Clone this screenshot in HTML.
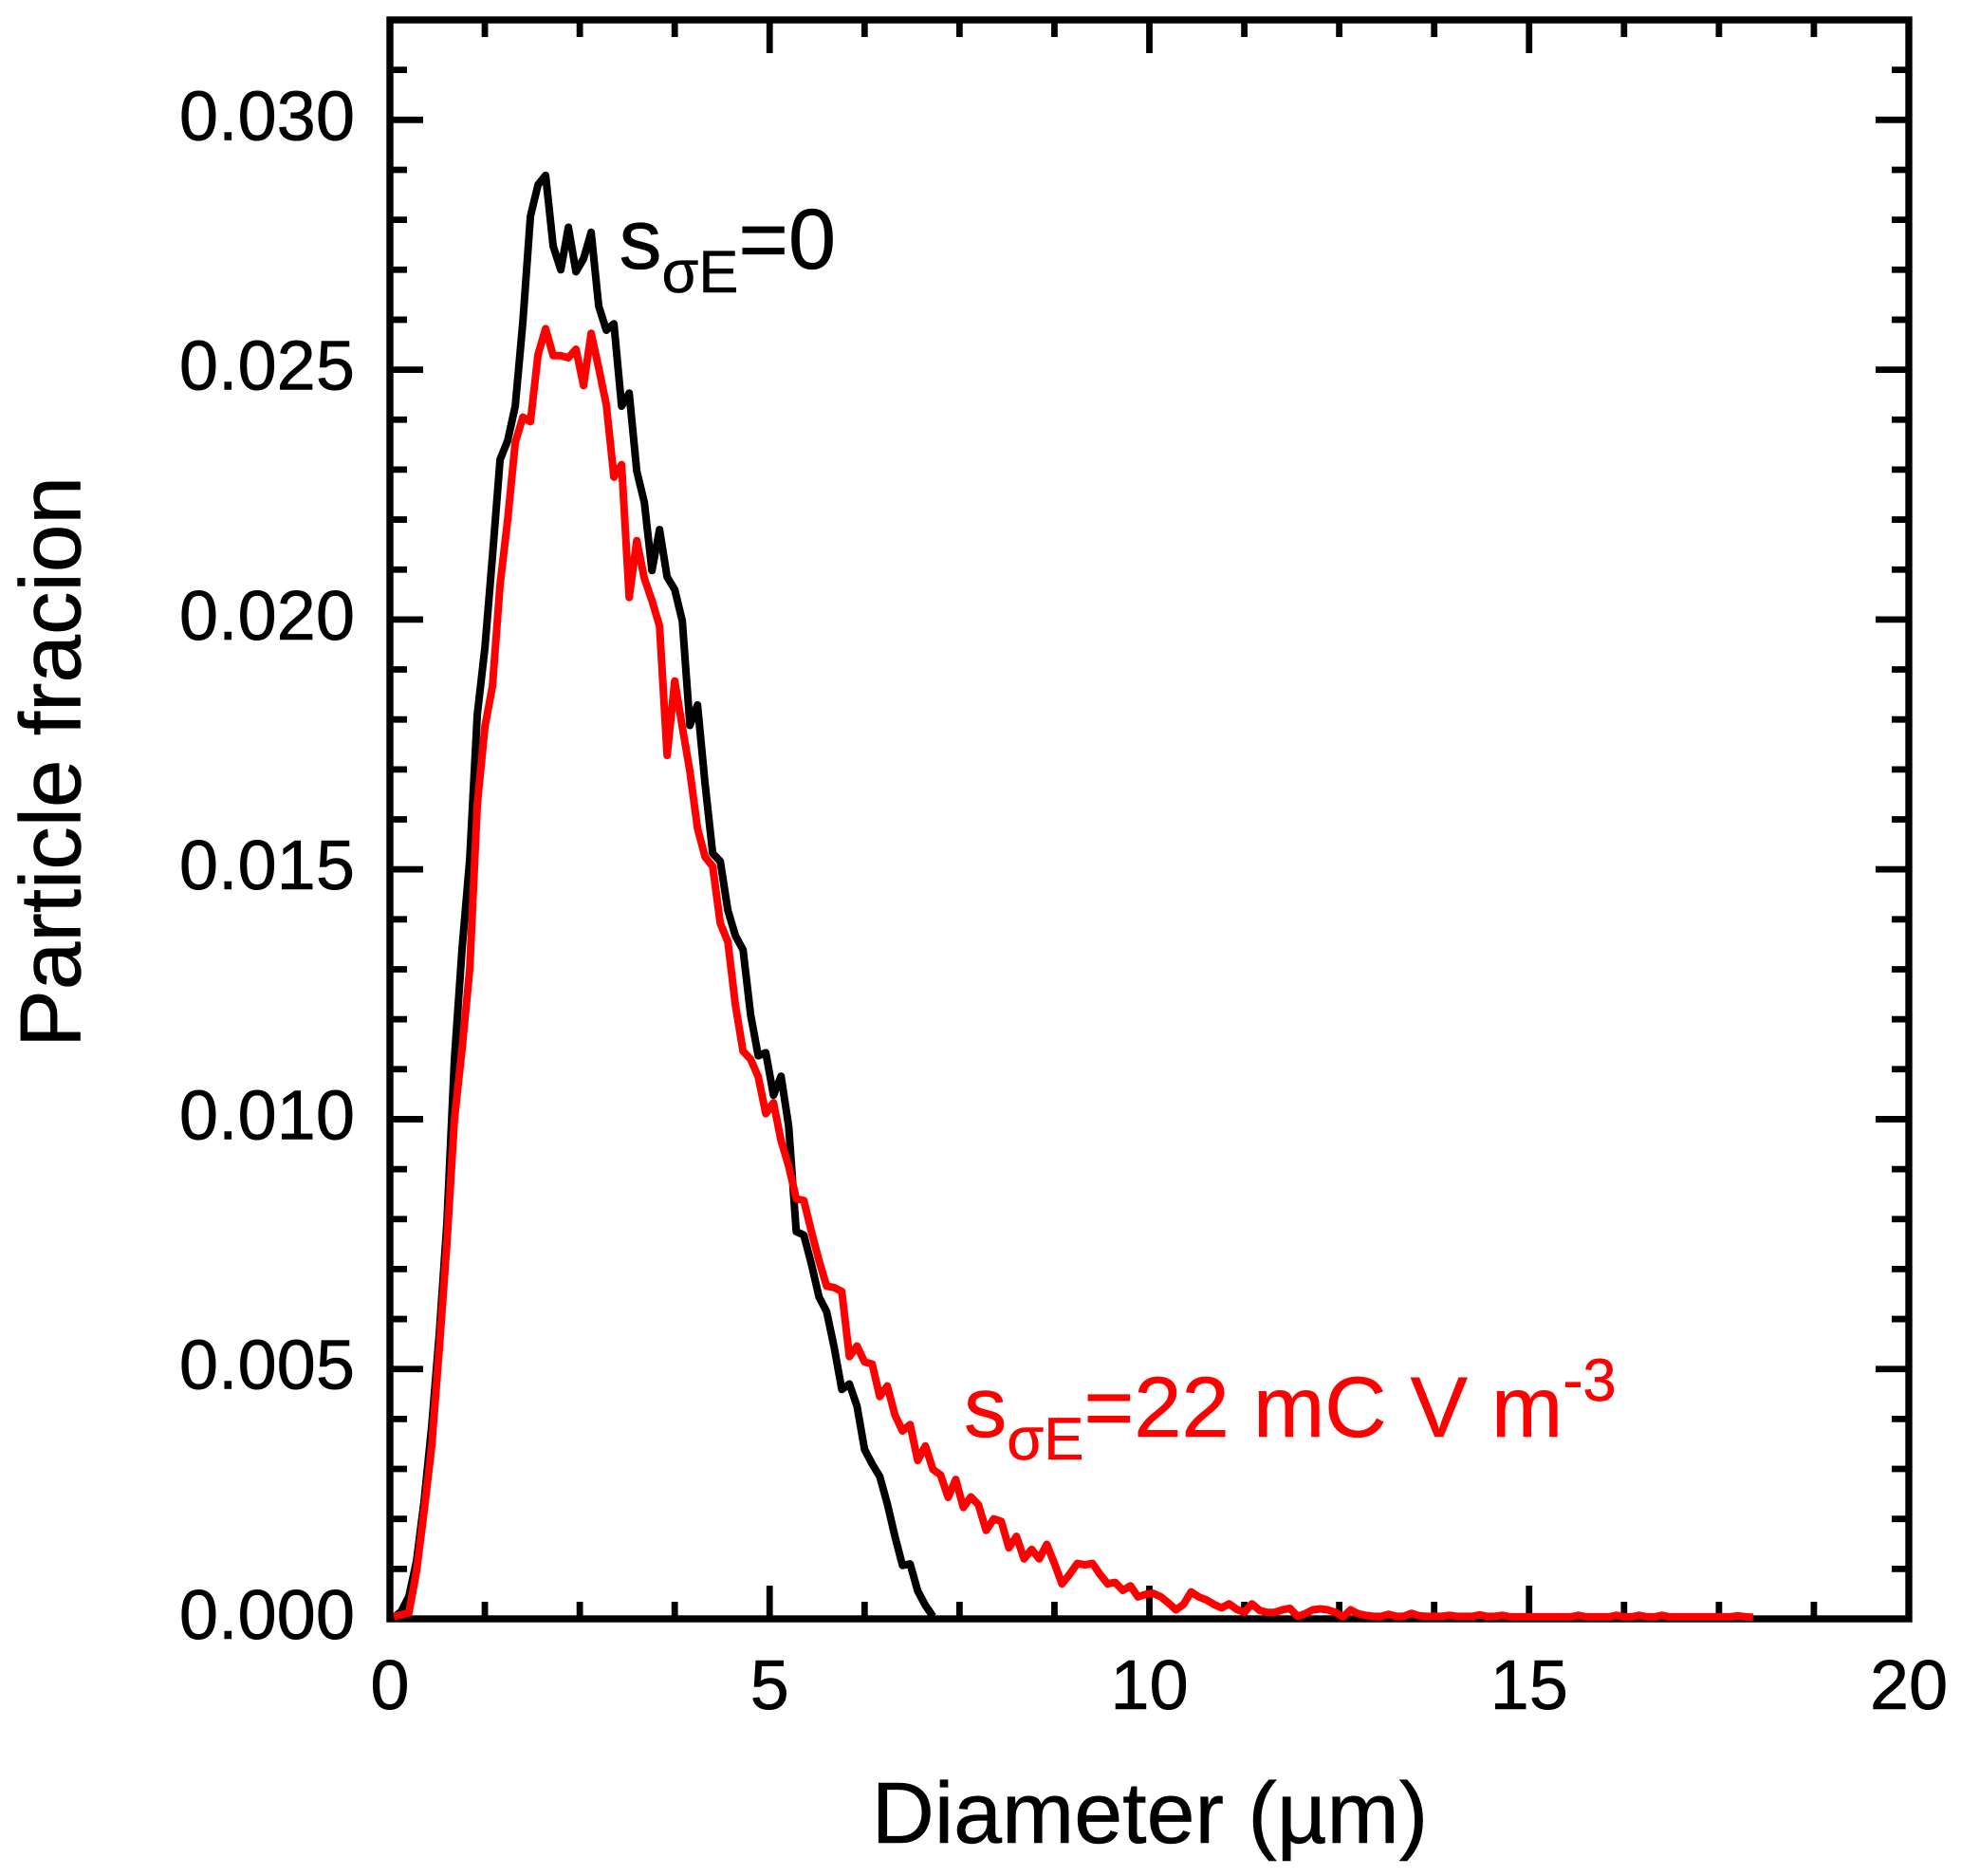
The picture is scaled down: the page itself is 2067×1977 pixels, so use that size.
<!DOCTYPE html>
<html lang="en">
<head>
<meta charset="utf-8">
<title>Particle fraction vs diameter</title>
<style>
  html, body { margin: 0; padding: 0; background: #fff; }
  svg { display: block; }
  text { font-family: "Liberation Sans", "DejaVu Sans", sans-serif; text-rendering: geometricPrecision; stroke-width: 0.6; paint-order: stroke; }
</style>
</head>
<body>
<svg id="chart" xmlns="http://www.w3.org/2000/svg" width="2067" height="1977" viewBox="0 0 2067 1977">
  <rect x="0" y="0" width="2067" height="1977" fill="#ffffff"/>
  <g id="ticks"></g>
  <g id="tick-labels"></g>
  <rect x="411" y="21" width="1601" height="1685" fill="none" stroke="#000" stroke-width="7.4"/>
  <g id="series"></g>
  <text x="1212" y="1942" font-size="91.5" text-anchor="middle" fill="#000" stroke="#000">Diameter (µm)</text>
  <text transform="translate(84.5 803) rotate(-90)" font-size="91" text-anchor="middle" fill="#000" stroke="#000">Particle fracion</text>
  <text x="652.5" y="283" font-size="90" fill="#000" stroke="#000">s<tspan font-size="63" dy="25">σE</tspan><tspan dy="-25">=0</tspan></text>
  <text x="1016" y="1514" font-size="90.4" fill="#ff0000" stroke="#ff0000">s<tspan font-size="63.3" dy="24">σE</tspan><tspan dy="-24">=22 mC V m</tspan><tspan font-size="63.3" dy="-38">-3</tspan></text>
</svg>
<script>
const diameters = [
  0.05,0.15,0.25,0.35,0.45,0.55,0.65,0.75,0.85,0.95,
  1.05,1.15,1.25,1.35,1.45,1.55,1.65,1.75,1.85,1.95,
  2.05,2.15,2.25,2.35,2.45,2.55,2.65,2.75,2.85,2.95,
  3.05,3.15,3.25,3.35,3.45,3.55,3.65,3.75,3.85,3.95,
  4.05,4.15,4.25,4.35,4.45,4.55,4.65,4.75,4.85,4.95,
  5.05,5.15,5.25,5.35,5.45,5.55,5.65,5.75,5.85,5.95,
  6.05,6.15,6.25,6.35,6.45,6.55,6.65,6.75,6.85,6.95,
  7.05,7.15,7.25,7.35,7.45,7.55,7.65,7.75,7.85,7.95,
  8.05,8.15,8.25,8.35,8.45,8.55,8.65,8.75,8.85,8.95,
  9.05,9.15,9.25,9.35,9.45,9.55,9.65,9.75,9.85,9.95,
  10.05,10.15,10.25,10.35,10.45,10.55,10.65,10.75,10.85,10.95,
  11.05,11.15,11.25,11.35,11.45,11.55,11.65,11.75,11.85,11.95,
  12.05,12.15,12.25,12.35,12.45,12.55,12.65,12.75,12.85,12.95,
  13.05,13.15,13.25,13.35,13.45,13.55,13.65,13.75,13.85,13.95,
  14.05,14.15,14.25,14.35,14.45,14.55,14.65,14.75,14.85,14.95,
  15.05,15.15,15.25,15.35,15.45,15.55,15.65,15.75,15.85,15.95,
  16.05,16.15,16.25,16.35,16.45,16.55,16.65,16.75,16.85,16.95,
  17.05,17.15,17.25,17.35,17.45,17.55,17.65,17.75,17.85,17.95
];
const fractionNoField = [
  0.00002,0.00015,0.00045,0.00115,0.00235,0.00385,0.00570,0.00790,0.0112,0.0134,
  0.0152,0.0181,0.01943,0.02127,0.0232,0.02358,0.02427,0.02595,0.02807,0.0287,
  0.02889,0.02747,0.027,0.02785,0.02696,0.02722,0.02775,0.02627,0.02579,0.02592,
  0.02427,0.02453,0.02297,0.02234,0.02098,0.0218,0.02085,0.0206,0.01997,0.01788,
  0.01829,0.01671,0.01532,0.01516,0.01418,0.01367,0.01339,0.01209,0.01127,0.01133,
  0.01048,0.01086,0.00986,0.00775,0.00768,0.0071,0.00644,0.00615,0.00543,0.00459,
  0.0047,0.00426,0.00339,0.0031,0.00285,0.0023,0.00165,0.00107,0.0011,0.00056,
  0.00027,0.00005
];
const fractionWithField = [
  0.00005,0.00008,0.00012,0.00095,0.00215,0.00345,0.0054,0.0075,0.0100,0.0114,
  0.0130,0.0163,0.01785,0.01867,0.0207,0.022,0.02354,0.02405,0.02396,0.0253,
  0.02582,0.02528,0.02528,0.02524,0.02541,0.02468,0.02573,0.02503,0.0243,0.02285,
  0.0231,0.02044,0.02158,0.02082,0.02038,0.01987,0.01728,0.01877,0.01785,0.01696,
  0.01582,0.01525,0.01506,0.01392,0.01355,0.01228,0.01136,0.0112,0.01085,0.01011,
  0.01033,0.00957,0.00906,0.00841,0.00837,0.00775,0.00717,0.00666,0.00663,0.00655,
  0.00525,0.00546,0.00514,0.0051,0.00445,0.00466,0.00408,0.00376,0.00389,0.00317,
  0.00346,0.00299,0.00288,0.00243,0.00279,0.00223,0.00244,0.00228,0.00177,0.002,
  0.00195,0.00142,0.00165,0.0012,0.00139,0.0012,0.00149,0.00111,0.0007,0.00089,
  0.00111,0.00108,0.00111,0.00089,0.0007,0.00073,0.00057,0.00066,0.00044,0.00049,
  0.00051,0.00044,0.00032,0.00018,0.00029,0.00054,0.00044,0.00038,0.00029,0.00022,
  0.0003,0.00019,0.00013,0.00030,0.00017,0.00013,0.00013,0.00018,0.00021,0.00005,
  0.0001,0.00018,0.0002,0.00018,0.00013,0.00004,0.00018,0.0001,0.00007,0.00005,
  0.00005,0.00009,0.00005,0.00005,0.00011,0.00006,0.00005,0.00005,0.00005,0.00007,
  0.00005,0.00005,0.00005,0.00008,0.00005,0.00005,0.00007,0.00004,0.00004,0.00004,
  0.00004,0.00004,0.00004,0.00004,0.00004,0.00004,0.00007,0.00004,0.00004,0.00004,
  0.00004,0.00007,0.00004,0.00004,0.00007,0.00004,0.00004,0.00007,0.00004,0.00004,
  0.00004,0.00004,0.00004,0.00004,0.00004,0.00004,0.00004,0.00006,0.00004,0.00003
];
const xTickValues = [0, 5, 10, 15, 20];
const xTickLabels = ["0", "5", "10", "15", "20"];
const xMinorValues = [1.25, 2.5, 3.75, 6.25, 7.5, 8.75, 11.25, 12.5, 13.75, 16.25, 17.5, 18.75];
const yTickValues = [0, 0.005, 0.01, 0.015, 0.02, 0.025, 0.03];
const yTickLabels = ["0.000", "0.005", "0.010", "0.015", "0.020", "0.025", "0.030"];
const yMinorValues = [0.001,0.002,0.003,0.004,0.006,0.007,0.008,0.009,0.011,0.012,0.013,0.014,0.016,0.017,0.018,0.019,0.021,0.022,0.023,0.024,0.026,0.027,0.028,0.029,0.031];

const NS = "http://www.w3.org/2000/svg";
const plot = { left: 411, right: 2012, top: 21, bottom: 1706 };
const xMax = 20;
const yMax = 0.032;
function xScale(v) { return plot.left + (v / xMax) * (plot.right - plot.left); }
function yScale(v) { return plot.bottom - (v / yMax) * (plot.bottom - plot.top); }

const ticksGroup = document.getElementById("ticks");
const labelsGroup = document.getElementById("tick-labels");
const seriesGroup = document.getElementById("series");

function addTick(x1, y1, x2, y2, name) {
  const el = document.createElementNS(NS, "line");
  el.setAttribute("x1", x1);
  el.setAttribute("y1", y1);
  el.setAttribute("x2", x2);
  el.setAttribute("y2", y2);
  el.setAttribute("stroke", "#000");
  el.setAttribute("stroke-width", 6.8);
  
  
  ticksGroup.appendChild(el);
}
function addLabel(x, y, anchor, content, name) {
  const el = document.createElementNS(NS, "text");
  el.setAttribute("x", x);
  el.setAttribute("y", y);
  el.setAttribute("text-anchor", anchor);
  el.setAttribute("font-size", 74);
  el.setAttribute("fill", "#000");
  el.setAttribute("stroke", "#000");
  el.textContent = content;
  
  
  labelsGroup.appendChild(el);
}
function drawSeries(xs, ys, color, name) {
  const pts = ys.map(function (v, i) { return xScale(xs[i]).toFixed(1) + "," + yScale(v).toFixed(1); });
  const el = document.createElementNS(NS, "polyline");
  el.setAttribute("points", pts.join(" "));
  el.setAttribute("fill", "none");
  el.setAttribute("stroke", color);
  el.setAttribute("stroke-width", 8);
  el.setAttribute("stroke-linejoin", "round");
  
  
  seriesGroup.appendChild(el);
}

const majorLen = 35;
const minorLen = 18;
xTickValues.forEach(function (v, i) {
  const x = xScale(v);
  addTick(x, plot.bottom, x, plot.bottom - majorLen, "x-major-tick-bottom");
  addTick(x, plot.top, x, plot.top + majorLen, "x-major-tick-top");
  addLabel(x, 1801, "middle", xTickLabels[i], "x-tick-label");
});
xMinorValues.forEach(function (v) {
  const x = xScale(v);
  addTick(x, plot.bottom, x, plot.bottom - minorLen, "x-minor-tick-bottom");
  addTick(x, plot.top, x, plot.top + minorLen, "x-minor-tick-top");
});
yTickValues.forEach(function (v, i) {
  const y = yScale(v);
  addTick(plot.left, y, plot.left + majorLen, y, "y-major-tick-left");
  addTick(plot.right, y, plot.right - majorLen, y, "y-major-tick-right");
  addLabel(374, y + 21, "end", yTickLabels[i], "y-tick-label");
});
yMinorValues.forEach(function (v) {
  const y = yScale(v);
  addTick(plot.left, y, plot.left + minorLen, y, "y-minor-tick-left");
  addTick(plot.right, y, plot.right - minorLen, y, "y-minor-tick-right");
});

drawSeries(diameters, fractionNoField, "#000000", "series-line-zero-field");
drawSeries(diameters, fractionWithField, "#ff0000", "series-line-22-mc");
</script>
</body>
</html>
